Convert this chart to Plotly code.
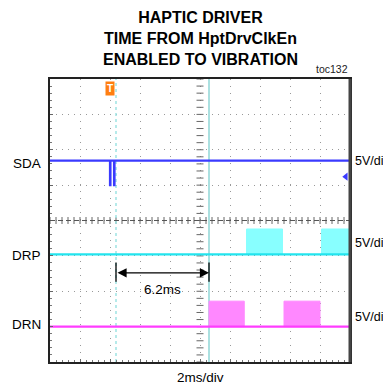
import numpy as np
import plotly.graph_objects as go

# ---- data (time in ms, levels in screen divisions) ----
t_min, t_max = -10.0, 10.0
sda_level = 5.69
sda_glitch_low = 5.0
sda_glitch_t = [-6.0, -5.73]

drp_base = 3.04
drp_high = 3.76
drp_start = [3.1, 8.1]
drp_end = [5.5, 10.0]

drn_base = 1.0
drn_high = 1.72
drn_start = [0.6, 5.6]
drn_end = [2.95, 8.0]

trigger_t = -6.0
cursor1_t = -5.6
cursor2_t = 0.6
sda_ref_level = 5.24

channel_names = ["SDA", "DRP", "DRN"]
channel_label_y = [5.62, 3.02, 1.07]
scale_label_y = [5.68, 3.35, 1.28]
scale_text = "5V/div"
time_scale_text = "2ms/div"
meas_text = "6.2ms"

FONT = "Liberation Sans, Arial, Helvetica, sans-serif"

BLUE = "#3a3aff"
CYAN = "#22e4ee"
CYAN_FILL = "#88ffff"
MAG = "#ff3cff"
MAG_FILL = "#ff88ff"

fig = go.Figure()

# center line ticks (graticule decoration)
ys = np.arange(0, 8.001, 0.2)
fig.add_trace(go.Scatter(x=[0] * len(ys), y=ys, mode="markers",
                         marker=dict(symbol="line-ew", size=5, line=dict(width=1, color="#666")),
                         hoverinfo="skip", showlegend=False))
xs = np.arange(t_min, t_max + 0.001, 0.4)
fig.add_trace(go.Scatter(x=xs, y=[4] * len(xs), mode="markers",
                         marker=dict(symbol="line-ns", size=5, line=dict(width=1, color="#666")),
                         hoverinfo="skip", showlegend=False))

# cursor lines
fig.add_trace(go.Scatter(x=[cursor1_t, cursor1_t], y=[0, 8], mode="lines",
                         line=dict(color="#9fe3e3", width=1.5, dash="dot"),
                         hoverinfo="skip", showlegend=False))
fig.add_trace(go.Scatter(x=[cursor2_t, cursor2_t], y=[0, 8], mode="lines",
                         line=dict(color="#8fd6d6", width=1.5),
                         hoverinfo="skip", showlegend=False))


def pulses(starts, ends, base, high, fill, name):
    for s, e in zip(starts, ends):
        fig.add_trace(go.Scatter(x=[s, s, e, e, s], y=[base, high, high, base, base],
                                 mode="lines", fill="toself", fillcolor=fill,
                                 line=dict(color=fill, width=1),
                                 hoverinfo="skip", showlegend=False, name=name))


pulses(drp_start, drp_end, drp_base, drp_high, CYAN_FILL, "DRP")
pulses(drn_start, drn_end, drn_base, drn_high, MAG_FILL, "DRN")

# baselines
fig.add_trace(go.Scatter(x=[t_min, t_max], y=[drp_base, drp_base], mode="lines",
                         line=dict(color=CYAN, width=2.2), showlegend=False))
fig.add_trace(go.Scatter(x=[t_min, t_max], y=[drn_base, drn_base], mode="lines",
                         line=dict(color=MAG, width=2.2), showlegend=False))

# SDA trace with glitches
sx, sy = [t_min], [sda_level]
for g in sda_glitch_t:
    sx += [g, g, g + 0.03, g + 0.03]
    sy += [sda_level, sda_glitch_low, sda_glitch_low, sda_level]
sx.append(t_max)
sy.append(sda_level)
fig.add_trace(go.Scatter(x=sx, y=sy, mode="lines", line=dict(color=BLUE, width=2.2),
                         showlegend=False))

# reference marker
fig.add_trace(go.Scatter(x=[9.72], y=[sda_ref_level], mode="markers",
                         marker=dict(symbol="triangle-left", size=7, color=BLUE),
                         showlegend=False))

shapes = [
    dict(type="line", xref="x", yref="y", x0=t_min, x1=t_max, y0=4, y1=4,
         line=dict(color="#555", width=1, dash="5px,3px")),
    dict(type="line", xref="x", yref="y", x0=cursor1_t, x1=cursor1_t, y0=2.27, y1=2.81,
         line=dict(color="black", width=1.3)),
    dict(type="line", xref="x", yref="y", x0=cursor2_t, x1=cursor2_t, y0=2.27, y1=2.81,
         line=dict(color="black", width=1.3)),
    dict(type="line", xref="paper", yref="paper", x0=1, x1=1, y0=0, y1=1,
         line=dict(color="#444", width=3)),
]

annotations = [
    dict(text="<b>HAPTIC DRIVER<br>TIME FROM HptDrvClkEn<br>ENABLED TO VIBRATION</b>",
         xref="paper", yref="paper", x=0.5, y=1, yshift=9, xanchor="center", yanchor="bottom",
         showarrow=False, font=dict(family=FONT, size=16, color="black")),
    dict(text="toc132", xref="paper", yref="paper", x=1, y=1, xanchor="right", yanchor="bottom",
         yshift=2, showarrow=False, font=dict(family=FONT, size=10.5, color="#222")),
    dict(text=time_scale_text, xref="paper", yref="paper", x=0.5, y=0, xanchor="center",
         yanchor="top", yshift=-6, showarrow=False, font=dict(family=FONT, size=13.5, color="black")),
    # measurement arrow
    dict(x=cursor2_t, y=2.52, ax=cursor1_t, ay=2.52, xref="x", yref="y", axref="x", ayref="y",
         text="", showarrow=True, arrowhead=2, arrowside="end+start", arrowsize=1.4,
         arrowwidth=1.3, arrowcolor="black", startarrowhead=2, startarrowsize=1.4),
    dict(text=meas_text, x=(cursor1_t + cursor2_t) / 2, y=2.06, xref="x", yref="y",
         showarrow=False, font=dict(family=FONT, size=13.5, color="black")),
    # trigger marker
    dict(text="<b>T</b>", x=trigger_t, y=1, xref="x", yref="paper", yanchor="top", yshift=-2,
         showarrow=False, bgcolor="#ff7f10", borderpad=1,
         font=dict(family=FONT, size=10, color="white")),
]
for name, yv in zip(channel_names, channel_label_y):
    annotations.append(dict(text=name, x=0, xref="paper", y=yv, yref="y", xanchor="right",
                            xshift=-7, showarrow=False,
                            font=dict(family=FONT, size=13.5, color="black")))
for yv in scale_label_y:
    annotations.append(dict(text=scale_text, x=1, xref="paper", y=yv, yref="y", xanchor="left",
                            xshift=3, showarrow=False,
                            font=dict(family=FONT, size=12.5, color="black")))

# page body has an 8px margin, so the figure is sized/offset to compensate
fig.update_layout(
    width=383, height=379,
    margin=dict(l=42, r=41, t=71, b=25),
    paper_bgcolor="white", plot_bgcolor="white",
    shapes=shapes, annotations=annotations, showlegend=False,
    xaxis=dict(range=[t_min, t_max], dtick=2, tick0=0, showticklabels=False,
               showgrid=True, gridcolor="#999", griddash="1px,6px", gridwidth=1,
               zeroline=False, showline=True, linecolor="#222", linewidth=1.5, mirror=True,
               ticks="inside", ticklen=3, tickcolor="#666",
               minor=dict(ticks="inside", dtick=0.4, ticklen=2, tickcolor="#777")),
    yaxis=dict(range=[0, 8], dtick=1, tick0=0, showticklabels=False,
               showgrid=True, gridcolor="#999", griddash="1px,5px", gridwidth=1,
               zeroline=False, showline=True, linecolor="#222", linewidth=1.5, mirror=True,
               ticks="inside", ticklen=3, tickcolor="#666",
               minor=dict(ticks="inside", dtick=0.2, ticklen=2, tickcolor="#777")),
)

fig.write_html("out.html")
